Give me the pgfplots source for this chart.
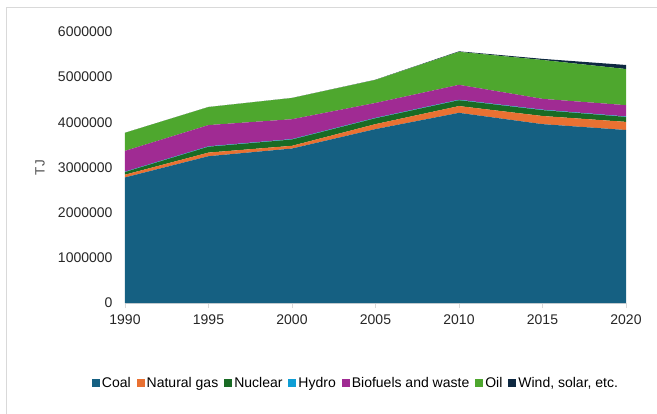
\documentclass[border=0pt]{standalone}
\usepackage{pgfplots}
\pgfplotsset{compat=1.18}
\usepackage{fontspec}
\setmainfont{Liberation Sans}
\definecolor{coal}{HTML}{156082}
\definecolor{gas}{HTML}{E97132}
\definecolor{nuclear}{HTML}{196B24}
\definecolor{hydro}{HTML}{0F9ED5}
\definecolor{bio}{HTML}{A02B93}
\definecolor{oil}{HTML}{4EA72E}
\definecolor{wind}{HTML}{0E2841}
\definecolor{txt}{HTML}{262626}
\definecolor{axl}{HTML}{D9D9D9}
\begin{document}
\begin{tikzpicture}
\path[use as bounding box] (-125bp,-111bp) rectangle (532bp,303bp);
\draw[axl,line width=0.8bp] (-119bp,-120bp) -- (-119bp,296bp) -- (540bp,296bp);
\begin{axis}[
  scale only axis, width=501bp, height=271bp,
  xmin=1990, xmax=2020, ymin=0, ymax=6000000,
  stack plots=y,
  axis x line*=bottom, axis y line*=left,
  x axis line style={axl, line width=0.8bp},
  y axis line style={draw=none},
  xtick={1990,1995,...,2020},
  ytick={0,1000000,...,6000000},
  tick align=outside, major tick length=5bp,
  xtick style={axl, line width=0.8bp},
  ytick style={draw=none},
  scaled y ticks=false,
  /pgf/number format/fixed,
  /pgf/number format/1000 sep={},
  /pgf/number format/assume math mode=true,
  xticklabel style={yshift=-3bp},
  yticklabel style={xshift=-4bp},
  every tick label/.append style={font=\fontsize{14bp}{16bp}\selectfont, text=txt},
  ylabel={TJ},
  ylabel style={at={(axis description cs:0,0.5)}, anchor=center, rotate=0, yshift=85bp, font=\fontsize{13.5bp}{16bp}\selectfont, text=txt!80},
  legend style={at={(0.461,-0.295)}, anchor=center, draw=none, fill=none,
    font=\fontsize{14bp}{16bp}\selectfont, text=black,
    /tikz/every odd column/.append style={inner xsep=1bp},
    /tikz/every even column/.append style={column sep=4bp, inner xsep=1bp}},
  legend columns=7,
  legend cell align=left,
  legend image code/.code={\fill[#1] (0bp,-4bp) rectangle (8bp,4bp);},
]
\addplot[fill=coal, draw=none] coordinates {(1990,2780000) (1995,3250000) (2000,3420000) (2005,3850000) (2010,4210000) (2015,3960000) (2020,3830000)} \closedcycle;
\addlegendentry{Coal}
\addplot[fill=gas, draw=none] coordinates {(1990,60000) (1995,80000) (2000,60000) (2005,110000) (2010,150000) (2015,180000) (2020,180000)} \closedcycle;
\addlegendentry{Natural gas}
\addplot[fill=nuclear, draw=none] coordinates {(1990,60000) (1995,130000) (2000,140000) (2005,130000) (2010,130000) (2015,130000) (2020,110000)} \closedcycle;
\addlegendentry{Nuclear}
\addplot[fill=hydro, draw=none] coordinates {(1990,8000) (1995,9000) (2000,9000) (2005,9000) (2010,10000) (2015,10000) (2020,10000)} \closedcycle;
\addlegendentry{Hydro}
\addplot[fill=bio, draw=none] coordinates {(1990,460000) (1995,470000) (2000,440000) (2005,330000) (2010,330000) (2015,240000) (2020,250000)} \closedcycle;
\addlegendentry{Biofuels and waste}
\addplot[fill=oil, draw=none] coordinates {(1990,400000) (1995,400000) (2000,470000) (2005,510000) (2010,730000) (2015,860000) (2020,800000)} \closedcycle;
\addlegendentry{Oil}
\addplot[fill=wind, draw=none] coordinates {(1990,0) (1995,0) (2000,1000) (2005,4000) (2010,12000) (2015,25000) (2020,90000)} \closedcycle;
\addlegendentry{Wind, solar, etc.}
\end{axis}
\end{tikzpicture}
\end{document}
